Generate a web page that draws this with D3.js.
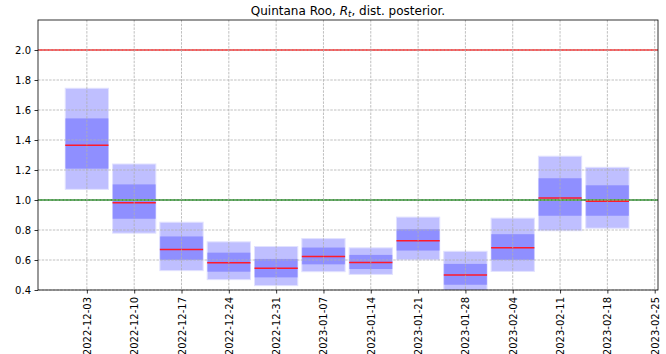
<!DOCTYPE html>
<html>
<head>
<meta charset="utf-8">
<script src="https://cdn.jsdelivr.net/npm/d3@7/dist/d3.min.js"></script>
<style>
  html, body { margin: 0; padding: 0; background: #fff; }
  svg { display: block; font-family: "DejaVu Sans", sans-serif; }
</style>
</head>
<body>
<svg id="chart" width="666" height="354"></svg>
<script>
// Weekly posterior summaries of R_t for Quintana Roo
const weeks = ["2022-12-03","2022-12-10","2022-12-17","2022-12-24","2022-12-31","2023-01-07",
               "2023-01-14","2023-01-21","2023-01-28","2023-02-04","2023-02-11","2023-02-18"];
const outerLow  = [1.071, 0.779, 0.529, 0.469, 0.429, 0.522, 0.504, 0.601, 0.390, 0.524, 0.795, 0.812];
const innerLow  = [1.209, 0.875, 0.601, 0.522, 0.484, 0.571, 0.540, 0.663, 0.435, 0.601, 0.895, 0.895];
const medians   = [1.365, 0.982, 0.670, 0.581, 0.545, 0.623, 0.583, 0.728, 0.500, 0.681, 1.013, 0.991];
const innerHigh = [1.544, 1.104, 0.757, 0.649, 0.607, 0.683, 0.634, 0.805, 0.574, 0.772, 1.145, 1.098];
const outerHigh = [1.745, 1.240, 0.852, 0.721, 0.690, 0.743, 0.681, 0.886, 0.658, 0.879, 1.292, 1.218];

const tickDates = ["2022-12-03","2022-12-10","2022-12-17","2022-12-24","2022-12-31","2023-01-07",
                   "2023-01-14","2023-01-21","2023-01-28","2023-02-04","2023-02-11","2023-02-18","2023-02-25"];
const yTicks = [0.4, 0.6, 0.8, 1.0, 1.2, 1.4, 1.6, 1.8, 2.0];
const refUpper = 2.0, refOne = 1.0;

const parse = d3.utcParse("%Y-%m-%d");
const DAY = 864e5;

const margin = {left: 38, right: 8, top: 20, bottom: 64};
const W = 666, H = 354;
const svg = d3.select("#chart");

const x = d3.scaleUtc()
  .domain([new Date(parse("2022-12-03").getTime() - 7.23 * DAY),
           new Date(parse("2023-02-25").getTime() + 0.49 * DAY)])
  .range([margin.left, W - margin.right]);
const y = d3.scaleLinear().domain([0.4, 2.2]).range([H - margin.bottom, margin.top]);

const halfW = 3.2 * DAY;
const data = weeks.map((w, i) => ({
  d: parse(w), ol: outerLow[i], il: innerLow[i], m: medians[i], ih: innerHigh[i], oh: outerHigh[i]
}));

svg.append("defs").append("clipPath").attr("id", "plot")
  .append("rect").attr("x", margin.left).attr("y", margin.top)
  .attr("width", W - margin.left - margin.right).attr("height", H - margin.top - margin.bottom);

const plot = svg.append("g").attr("clip-path", "url(#plot)");

// credible interval boxes (semi-transparent blue; inner band overlays outer)
const xl = d => x(new Date(d.d.getTime() - halfW));
const xr = d => x(new Date(d.d.getTime() + halfW));
plot.selectAll("rect.outer").data(data).join("rect").attr("class", "outer")
  .attr("x", xl).attr("width", d => xr(d) - xl(d))
  .attr("y", d => y(d.oh)).attr("height", d => y(d.ol) - y(d.oh))
  .attr("fill", "rgb(0,0,255)").attr("fill-opacity", 0.25)
  .attr("stroke", "rgb(225,225,255)").attr("stroke-width", 1);
plot.selectAll("rect.inner").data(data).join("rect").attr("class", "inner")
  .attr("x", xl).attr("width", d => xr(d) - xl(d))
  .attr("y", d => y(d.ih)).attr("height", d => y(d.il) - y(d.ih))
  .attr("fill", "rgb(0,0,255)").attr("fill-opacity", 0.25);

// grid
const grid = svg.append("g");
grid.selectAll("line.gx").data(tickDates).join("line")
  .attr("x1", d => x(parse(d))).attr("x2", d => x(parse(d)))
  .attr("y1", margin.top).attr("y2", H - margin.bottom)
  .attr("stroke", "#b0b0b0").attr("stroke-width", 0.8).attr("stroke-dasharray", "2.5,1.2");
grid.selectAll("line.gy").data(yTicks).join("line")
  .attr("y1", d => y(d)).attr("y2", d => y(d))
  .attr("x1", margin.left).attr("x2", W - margin.right)
  .attr("stroke", "#b0b0b0").attr("stroke-width", 0.8).attr("stroke-dasharray", "2.5,1.2");

// reference lines
plot.append("line").attr("x1", margin.left).attr("x2", W - margin.right)
  .attr("y1", y(refUpper)).attr("y2", y(refUpper))
  .attr("stroke", "#ff1a1a").attr("stroke-width", 1.5);
plot.append("line").attr("x1", margin.left).attr("x2", W - margin.right)
  .attr("y1", y(refOne)).attr("y2", y(refOne))
  .attr("stroke", "#46a046").attr("stroke-width", 2);

// medians
plot.selectAll("line.med").data(data).join("line")
  .attr("x1", xl).attr("x2", xr)
  .attr("y1", d => y(d.m)).attr("y2", d => y(d.m))
  .attr("stroke", "#ff1a2a").attr("stroke-width", 1.5);

// axes
const yAxis = svg.append("g").attr("transform", `translate(${margin.left},0)`)
  .call(d3.axisLeft(y).tickValues(yTicks).tickFormat(d3.format(".1f")).tickSize(3.5).tickPadding(3.5));
const xAxis = svg.append("g").attr("transform", `translate(0,${H - margin.bottom})`)
  .call(d3.axisBottom(x).tickValues(tickDates.map(parse)).tickFormat(d3.utcFormat("%Y-%m-%d")).tickSize(3.5));
[xAxis, yAxis].forEach(a => {
  a.select(".domain").remove();
  a.selectAll(".tick line").attr("stroke", "#000").attr("stroke-width", 0.8);
  a.selectAll("text").attr("fill", "#000").style("font-size", "10px").style("font-family", "DejaVu Sans, sans-serif");
});
xAxis.selectAll("text")
  .attr("transform", "rotate(-90)")
  .attr("text-anchor", "end")
  .attr("x", -7).attr("y", 0).attr("dy", "0.35em");

// frame
svg.append("rect").attr("x", margin.left).attr("y", margin.top)
  .attr("width", W - margin.left - margin.right).attr("height", H - margin.top - margin.bottom)
  .attr("fill", "none").attr("stroke", "#000").attr("stroke-width", 0.8);

// title
const title = svg.append("text").attr("x", (margin.left + W - margin.right) / 2).attr("y", 15)
  .attr("text-anchor", "middle").style("font-size", "12px").attr("fill", "#000");
title.append("tspan").text("Quintana Roo, ");
title.append("tspan").attr("font-style", "italic").text("R");
title.append("tspan").attr("font-style", "italic").attr("font-size", "8.5px").attr("dy", "2").text("t");
title.append("tspan").attr("dy", "-2").text(", dist. posterior.");
</script>
</body>
</html>
